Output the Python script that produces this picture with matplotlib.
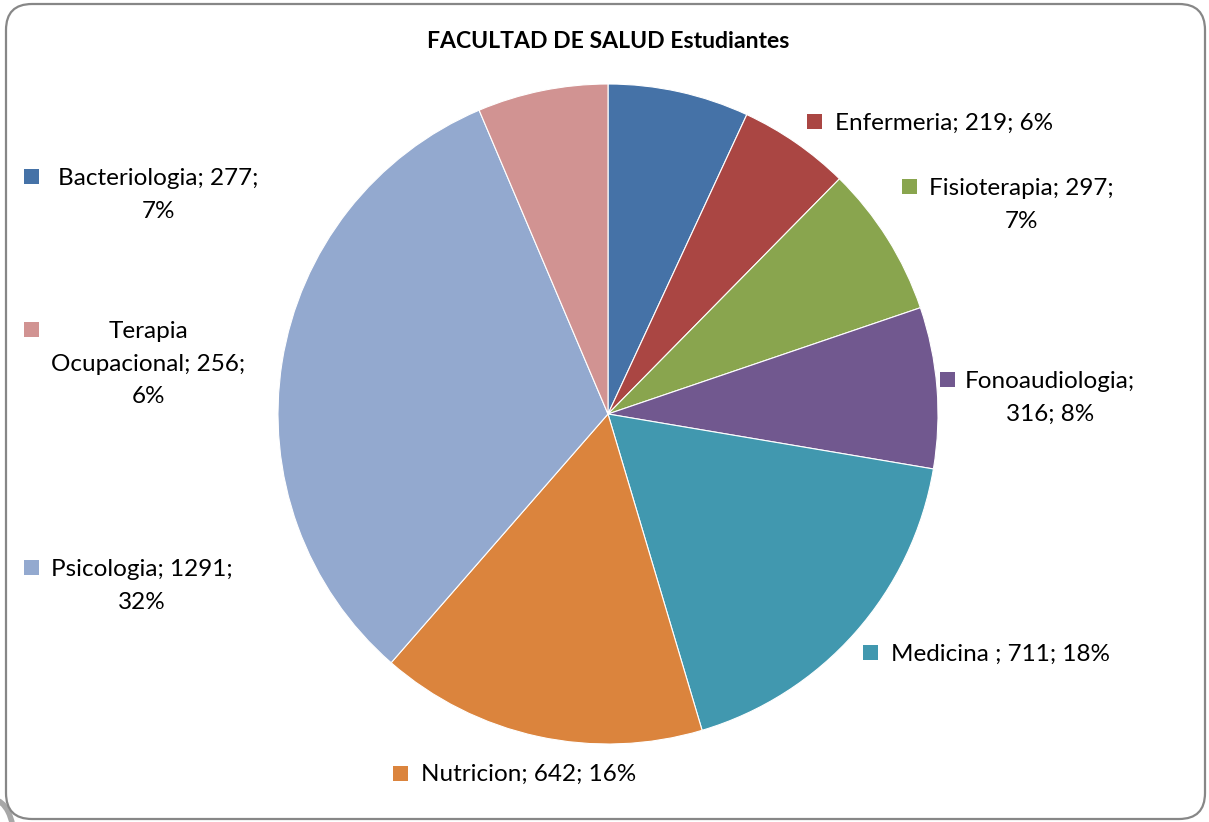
import matplotlib
matplotlib.use("Agg")
import matplotlib.pyplot as plt
from matplotlib.patches import FancyBboxPatch, Rectangle, Arc

# ---- data ----
categories = ["Bacteriologia", "Enfermeria", "Fisioterapia", "Fonoaudiologia",
              "Medicina ", "Nutricion", "Psicologia", "Terapia Ocupacional"]
students = [277, 219, 297, 316, 711, 642, 1291, 256]
percent_labels = ["7%", "6%", "7%", "8%", "18%", "16%", "32%", "6%"]
colors = ["#4572A7", "#AA4643", "#89A54E", "#71588F",
          "#4198AF", "#DB843D", "#93A9CF", "#D19392"]
title = "FACULTAD DE SALUD Estudiantes"

# ---- layout (pixel coordinates, y measured from the top) ----
W, H = 1209, 822
# label block: (square x, square y, text left x, line breaks)
label_layout = {
    "Bacteriologia":       (31, 177, 58, "{n}; {v};\n{p}"),
    "Enfermeria":          (814, 122, 835, "{n}; {v}; {p}"),
    "Fisioterapia":        (909, 187, 929, "{n}; {v};\n{p}"),
    "Fonoaudiologia":      (947, 380, 965, "{n};\n{v}; {p}"),
    "Medicina ":           (870, 653, 891, "{n}; {v}; {p}"),
    "Nutricion":           (400, 773, 421, "{n}; {v}; {p}"),
    "Psicologia":          (31, 568, 51, "{n}; {v};\n{p}"),
    "Terapia Ocupacional": (31, 330, 51, "Terapia\nOcupacional; {v};\n{p}"),
}
LABEL_FS = 17.5

plt.rcParams['font.family'] = ['Lato', 'DejaVu Sans']

fig = plt.figure(figsize=(W / 100, H / 100), dpi=100)
ax = fig.add_axes([0, 0, 1, 1])

def Y(y):
    return H - y

# screenshot artifact at bottom-left corner
ax.add_patch(Arc((-6, Y(840)), 40, 80, theta1=0, theta2=90,
                 edgecolor="#a8a8a8", linewidth=4))

# border
ax.add_patch(FancyBboxPatch((6, Y(819)), 1199, 815,
                            boxstyle="round,pad=0,rounding_size=26",
                            facecolor="white", edgecolor="none", zorder=0))
ax.add_patch(FancyBboxPatch((6, Y(819)), 1199, 815,
                            boxstyle="round,pad=0,rounding_size=26",
                            fill=False, edgecolor="#878787", linewidth=1.6))

wedges, _ = ax.pie(students, colors=colors, startangle=90, counterclock=False,
                   center=(608, Y(414)), radius=330,
                   wedgeprops=dict(edgecolor="white", linewidth=0.8))
ax.set_xlim(0, W)
ax.set_ylim(0, H)
ax.set_aspect('equal')
ax.axis('off')

ax.text(608, Y(42), title, ha='center', va='center', fontsize=16.6,
        fontweight='bold', color='black')

for name, val, pct, col in zip(categories, students, percent_labels, colors):
    sx, sy, tx, fmt = label_layout[name]
    txt = fmt.format(n=name, v=val, p=pct)
    ax.add_patch(Rectangle((sx - 7.5, Y(sy) - 7.5), 15, 15, facecolor=col,
                           edgecolor='none'))
    ax.text(tx, Y(sy - 9), txt, ha='left', va='top', multialignment='center',
            fontsize=LABEL_FS, color='black', linespacing=1.68)

fig.savefig("out.png", dpi=100)
